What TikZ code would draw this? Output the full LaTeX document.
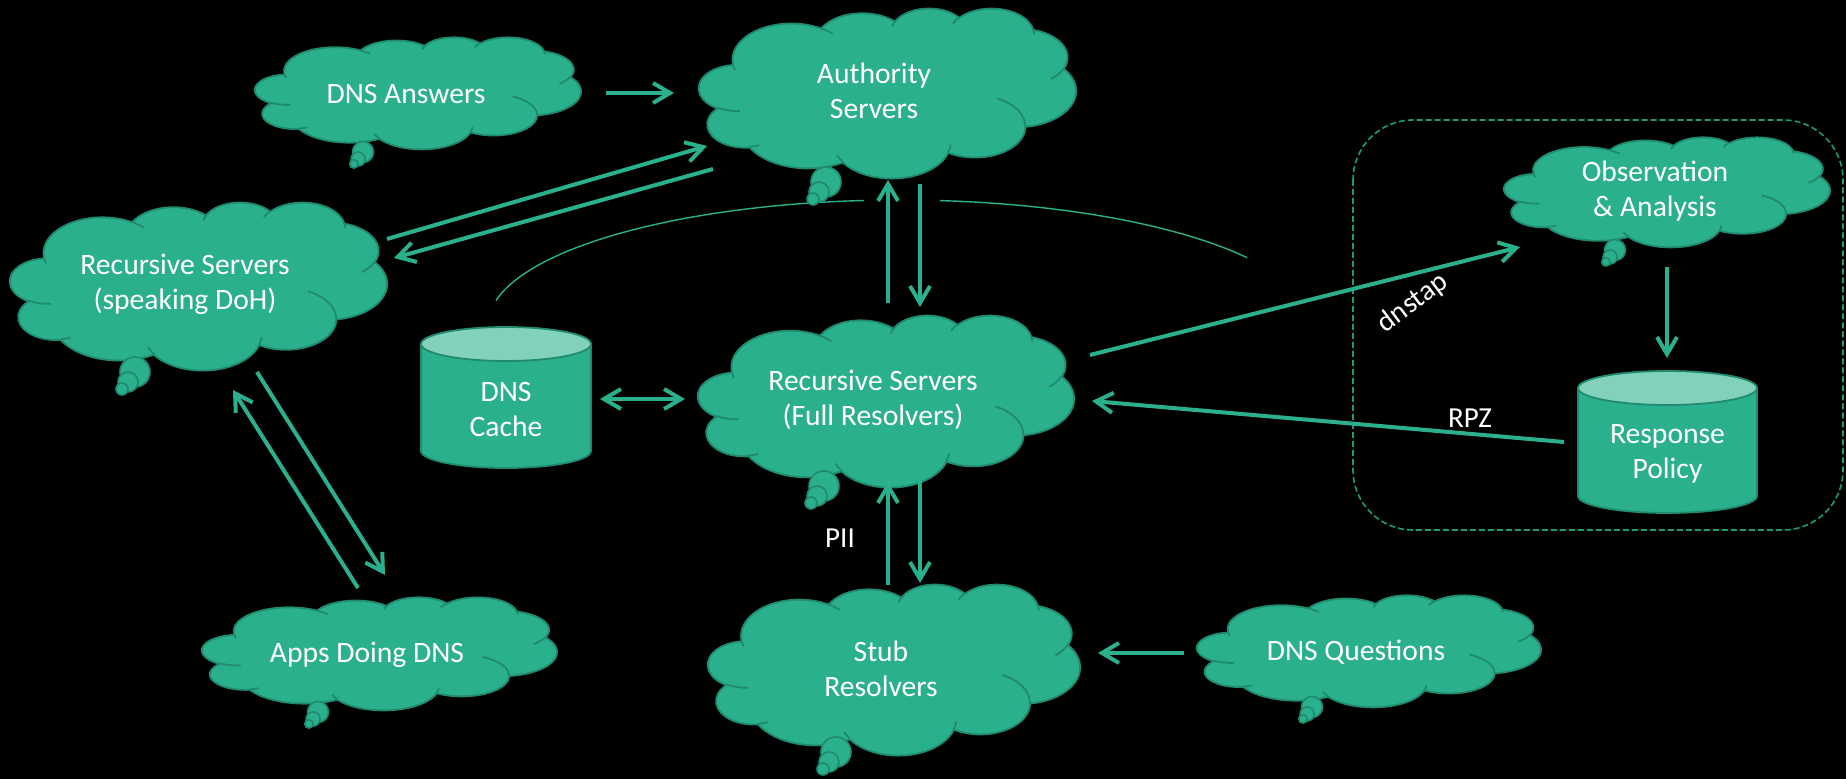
\documentclass[tikz,border=0pt]{standalone}
\usepackage{fontspec}
\setmainfont{Carlito}
\usetikzlibrary{arrows.meta}
\definecolor{cfill}{HTML}{2BB08D}
\definecolor{cedge}{HTML}{1F8A6D}
\definecolor{ctop}{HTML}{82D1BB}
\definecolor{cdash}{HTML}{1E9A78}
\tikzset{pa/.style n args={4}{insert path={arc[start angle={atan2((#1)*sin(#3),(#2)*cos(#3))},
   delta angle={Mod(atan2((#1)*sin((#3)+(#4)),(#2)*cos((#3)+(#4)))-atan2((#1)*sin(#3),(#2)*cos(#3)),360)},
   x radius=#1, y radius=#2]}}}
\newcommand\pptcloud[5]{%
  \begin{scope}[shift={(#2,#3)},xscale=#4/432,yscale=#5/432]
    \filldraw[cloudline] (39,143.7)
      [pa={67.53}{91.90}{-190.488}{123.781}]
      [pa={53.33}{72.67}{-144.102}{89.945}]
      [pa={43.65}{59.45}{-145.808}{99.723}]
      [pa={48.57}{65.95}{-130.986}{117.242}]
      [pa={53.33}{72.73}{-78.709}{109.027}]
      [pa={67.75}{92.20}{-46.267}{130.269}]
      [pa={57.85}{78.67}{0.625}{114.033}]
      [pa={67.52}{92.15}{22.452}{115.173}]
      [pa={77.20}{105.43}{66.243}{75.711}]
      [pa={43.60}{59.18}{-274.942}{146.736}]
      [pa={43.45}{59.45}{-246.829}{152.519}] -- cycle;
    \draw[cloudline, fill=none]
      (46.93,261.77) [pa={43.45}{59.45}{86.742}{26.430}]
      (69.28,348.99) [pa={43.60}{59.18}{73.610}{11.447}]
      (164.78,390.90) [pa={67.52}{92.15}{137.624}{14.081}]
      (288.27,347.51) [pa={67.52}{92.15}{6.453}{15.998}]
      (341.29,229.54) [pa={57.85}{78.67}{-70.292}{70.917}]
      (417.98,153.54) [pa={53.33}{72.73}{30.318}{27.752}]
      (383.24,54.26) [pa={48.57}{65.95}{-13.744}{14.859}]
      (290.78,39.52) [pa={48.57}{65.95}{-149.181}{18.195}]
      (221.41,47.20) [pa={43.65}{59.45}{-163.494}{17.686}]
      (140.00,51.92) [pa={67.53}{91.90}{-66.707}{12.319}]
      (41.27,157.89) [pa={67.53}{91.90}{157.654}{11.858}];
  \end{scope}
  \node[inner sep=0pt] (#1) at ({#2+#4/2},{#3+#5/2}) {};}
\newcommand\mybubbles[3]{%
  \begin{scope}[shift={(#1,#2)},scale=#3]
    \filldraw[bub] (0,0) circle[radius=7.5pt];
    \filldraw[bub] (-7,10) circle[radius=5pt];
    \filldraw[bub] (-13,17) circle[radius=3pt];
  \end{scope}}
\newcommand\mycyl[5]{%
  \filldraw[cylbody] ({#1-#4},#2) -- ({#1-#4},#3) arc[start angle=180,end angle=360,x radius=#5pt,y radius=8.5pt] -- ({#1+#4},#2) -- cycle;
  \filldraw[cyltop] (#1,#2) ellipse[x radius=#5pt,y radius=8.5pt];}
\begin{document}
\begin{tikzpicture}[x=0.5pt,y=-0.5pt,
  cloudline/.style={draw=cedge, fill=cfill, line width=0.9pt},
  bub/.style={fill=cfill, draw=cedge, line width=0.8pt},
  txt/.style={text=white, align=center, font=\fontsize{14.8}{17.5}\selectfont, inner sep=0pt},
  lbl/.style={text=white, font=\fontsize{14.5}{17}\selectfont, inner sep=0pt},
  arr/.style={draw=cfill, line width=2pt, -{Straight Barb[length=8.5pt,width=10pt]}},
  darr/.style={draw=cfill, line width=2pt, {Straight Barb[length=8.5pt,width=10pt]}-{Straight Barb[length=8.5pt,width=10pt]}},
  thinarc/.style={draw=cfill, line width=0.7pt},
  dashbox/.style={draw=cdash, line width=0.8pt, dash pattern=on 3pt off 1.5pt, rounded corners=30pt},
  cylbody/.style={fill=cfill, draw=cedge, line width=0.9pt},
  cyltop/.style={fill=ctop, draw=cedge, line width=0.9pt}]
\useasboundingbox (0,0) rectangle (1846,779);
\fill[black] (0,0) rectangle (1846,779);

% thin arc behind
\draw[thinarc] plot[domain=32.6:84.4, samples=40] ({900+412*cos(\x)},{325-125*sin(\x)});
\draw[thinarc] plot[domain=95:168.7, samples=60] ({900+412*cos(\x)},{325-125*sin(\x)});

% dashed group box
\draw[dashbox] (1353,120) rectangle (1843,530);

% clouds: name, left, top, width, height
\pptcloud{ansC}{255}{37}{326}{112}
\pptcloud{authC}{699}{8}{377}{170}
\pptcloud{dohC}{10}{202}{377}{168}
\pptcloud{fullC}{698}{315}{376}{172}
\pptcloud{obsC}{1504}{137}{326}{110}
\pptcloud{appsC}{202}{597}{355}{113}
\pptcloud{stubC}{708}{584}{372}{171}
\pptcloud{dnsqC}{1197}{595}{344}{112}

% thought bubbles
\mybubbles{363}{152}{0.7}
\mybubbles{826}{182}{1}
\mybubbles{135}{372}{1}
\mybubbles{824}{486}{1}
\mybubbles{1615}{250}{0.7}
\mybubbles{318}{712}{0.7}
\mybubbles{836}{752}{1}
\mybubbles{1312}{707}{0.7}

% cylinders
\mycyl{506}{344}{451}{85}{42.5}
\mycyl{1667.5}{388}{496}{89.5}{44.75}

% texts
\node[txt] (ans) at (406,94) {DNS Answers};
\node[txt] (auth) at (874,91) {Authority\\Servers};
\node[txt] (doh) at (185,284) {Recursive Servers\\(speaking DoH)};
\node[txt] (full) at (873,400) {Recursive Servers\\(Full Resolvers)};
\node[txt] (obs) at (1655,191) {Observation\\\& Analysis};
\node[txt] (apps) at (367,655) {Apps Doing DNS};
\node[txt] (stub) at (881,669) {Stub\\Resolvers};
\node[txt] (dnsq) at (1356,652) {DNS Questions};
\node[txt] (cache) at (506,410) {DNS\\Cache};
\node[txt] (rp) at (1667.5,454) {Response\\Policy};

% arrow end points
\coordinate (ansO) at (606,93);   \coordinate (authA) at (674,93);
\coordinate (dohO) at (387,239);  \coordinate (authB) at (707,146);
\coordinate (authO) at (713,169); \coordinate (dohI) at (394,258);
\coordinate (fullU) at (888,303); \coordinate (authU) at (888,180);
\coordinate (authD) at (920,184); \coordinate (fullD) at (920,307);
\coordinate (fullB) at (920,480); \coordinate (stubT) at (920,583);
\coordinate (stubU) at (888,585); \coordinate (fullBU) at (888,482);
\coordinate (dohB) at (257,372);  \coordinate (appsT) at (385,575);
\coordinate (appsU) at (358,588); \coordinate (dohBU) at (233,390);
\coordinate (cacheR) at (600,399); \coordinate (fullL) at (685,399);
\coordinate (fullR) at (1090,355); \coordinate (obsL) at (1520,247);
\coordinate (rpL) at (1564,442);  \coordinate (fullRR) at (1092,401);
\coordinate (obsB) at (1667,267); \coordinate (rpT) at (1667,358);
\coordinate (dnsqL) at (1184,653); \coordinate (stubR) at (1098,653);

% arrows
\draw[arr] (ansO) -- (authA);
\draw[arr] (dohO) -- (authB);
\draw[arr] (authO) -- (dohI);
\draw[arr] (fullU) -- (authU);
\draw[arr] (authD) -- (fullD);
\draw[arr] (fullB) -- (stubT);
\draw[arr] (stubU) -- (fullBU);
\draw[arr] (dohB) -- (appsT);
\draw[arr] (appsU) -- (dohBU);
\draw[darr] (cacheR) -- (fullL);
\draw[arr] (fullR) -- (obsL);
\draw[arr] (rpL) -- (fullRR);
\draw[arr] (obsB) -- (rpT);
\draw[arr] (dnsqL) -- (stubR);

% labels
\node[lbl] (pii) at (840,538) {PII};
\node[lbl] (rpz) at (1470,418) {RPZ};
\node[lbl, rotate=37] (dnstap) at (1413,303) {dnstap};
\end{tikzpicture}
\end{document}
